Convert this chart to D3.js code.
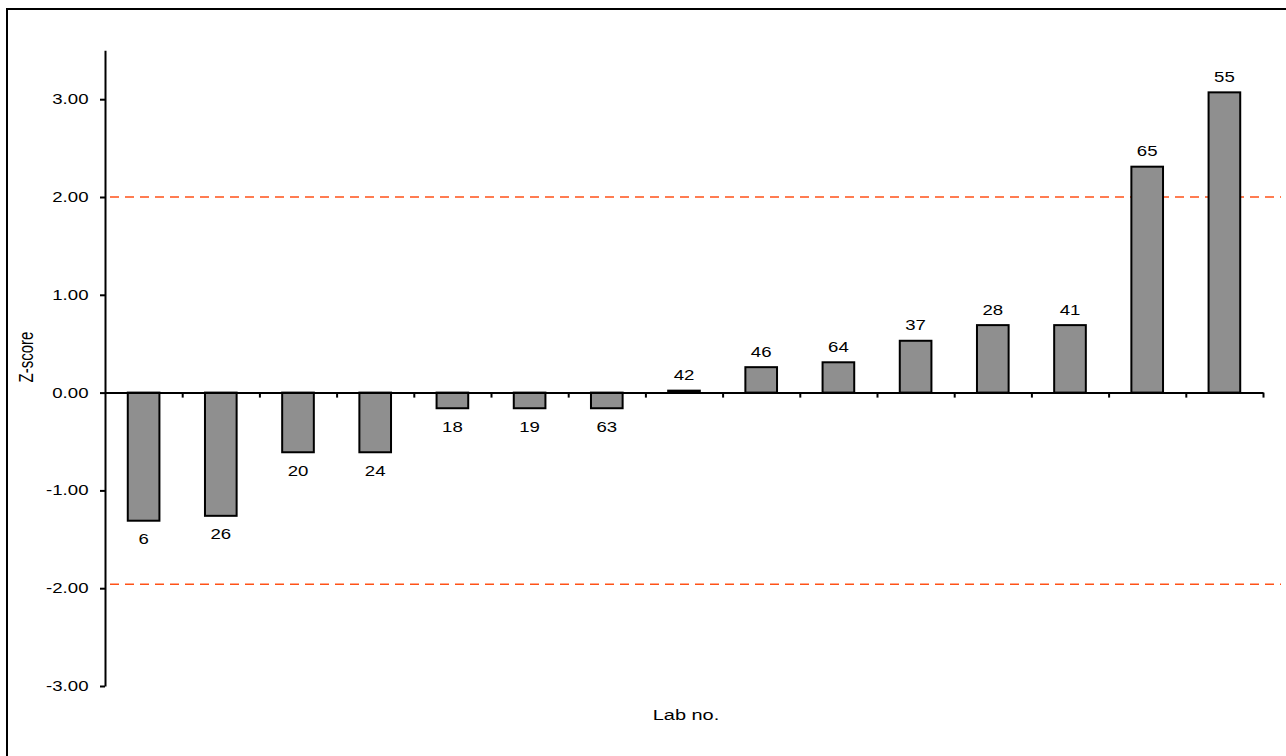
<!DOCTYPE html>
<html>
<head>
<meta charset="utf-8">
<script src="https://cdn.jsdelivr.net/npm/d3@7"></script>
<style>
  html, body { margin: 0; padding: 0; background: #fff; }
  svg { display: block; font-family: Arial, "Liberation Sans", sans-serif; }
</style>
</head>
<body>
<svg id="chart" width="1286" height="756"></svg>
<script>
const labs = ["6", "26", "20", "24", "18", "19", "63", "42", "46", "64", "37", "28", "41", "65", "55"];
const zScores = [-1.31, -1.26, -0.61, -0.61, -0.16, -0.16, -0.16, 0.02, 0.26, 0.31, 0.53, 0.69, 0.69, 2.31, 3.07];
const yTicks = [-3, -2, -1, 0, 1, 2, 3];
const limitLines = [2.0, -1.96];
const yTitle = "Z-score";
const xTitle = "Lab no.";

const SX = 1.33; // horizontal text stretch seen in the reference
const svg = d3.select("#chart");

// outer frame (top and left visible)
svg.append("rect")
  .attr("x", 7).attr("y", 9)
  .attr("width", 1300).attr("height", 760)
  .attr("fill", "none").attr("stroke", "#000").attr("stroke-width", 2);

const x0 = 105, x1 = 1263;
const y = d3.scaleLinear().domain([-3, 3.5]).range([686, 50.3]);
const x = d3.scaleBand().domain(labs).range([x0, x1]).paddingInner(0.59).paddingOuter(0.295);
const xIdx = d3.scaleLinear().domain([0, labs.length]).range([x0, x1]);

// Y axis
const fmt = v => d3.format(".2f")(v).replace("\u2212", "-");
const yAxis = svg.append("g")
  .attr("transform", `translate(${x0},0)`)
  .call(d3.axisLeft(y).tickValues(yTicks).tickSize(5).tickSizeOuter(0).tickPadding(11).tickFormat(fmt));
yAxis.select(".domain").attr("stroke-width", 2);
yAxis.selectAll(".tick line").attr("stroke-width", 2);
yAxis.selectAll("text")
  .attr("font-size", 14).attr("fill", "#000")
  .attr("font-family", "Arial, 'Liberation Sans', sans-serif")
  .attr("x", 0)
  .attr("transform", `translate(-16.5,0) scale(${SX},1)`);

// limit lines
svg.append("g").selectAll("line").data(limitLines).join("line")
  .attr("x1", 110).attr("x2", 1281)
  .attr("y1", d => y(d)).attr("y2", d => y(d))
  .attr("stroke", "#ff5218").attr("stroke-width", 1.5)
  .attr("stroke-dasharray", "9,6");

// bars
svg.append("g").selectAll("rect").data(labs).join("rect")
  .attr("x", (d) => x(d))
  .attr("width", x.bandwidth())
  .attr("y", (d, i) => y(Math.max(0, zScores[i])))
  .attr("height", (d, i) => Math.abs(y(zScores[i]) - y(0)))
  .attr("fill", "#8f8f8f")
  .attr("stroke", "#000").attr("stroke-width", 2);

// X axis (zero line with boundary ticks)
const boundaries = d3.range(1, labs.length + 1);
const xAxis = svg.append("g")
  .attr("transform", `translate(0,${y(0)})`)
  .call(d3.axisBottom(xIdx).tickValues(boundaries).tickSize(5).tickSizeOuter(0).tickFormat(""));
xAxis.select(".domain").attr("stroke-width", 2);
xAxis.selectAll(".tick line").attr("stroke-width", 2);

// value labels
svg.append("g").selectAll("text").data(labs).join("text")
  .attr("transform", (d, i) => {
    const tx = x(d) + x.bandwidth() / 2;
    const ty = zScores[i] >= 0 ? y(zScores[i]) - 10.5 : y(zScores[i]) + 23.5;
    return `translate(${tx},${ty}) scale(${SX},1)`;
  })
  .attr("text-anchor", "middle")
  .attr("font-size", 14)
  .attr("fill", "#000")
  .text(d => d);

// axis titles
svg.append("text")
  .attr("transform", `translate(32.5,357) scale(${SX},1) rotate(-90)`)
  .attr("text-anchor", "middle")
  .attr("font-size", 15)
  .attr("fill", "#000")
  .text(yTitle);

svg.append("text")
  .attr("transform", `translate(686,720) scale(${SX},1)`)
  .attr("text-anchor", "middle")
  .attr("font-size", 15)
  .attr("fill", "#000")
  .text(xTitle);
</script>
</body>
</html>
